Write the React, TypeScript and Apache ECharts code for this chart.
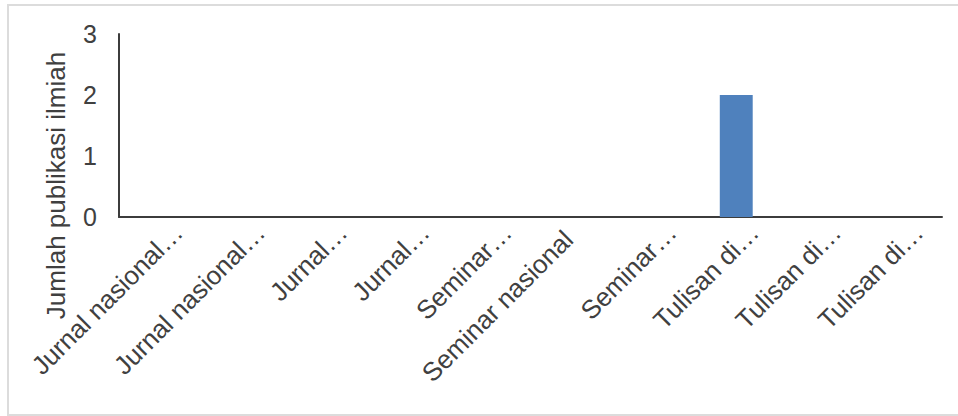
import React, { useEffect, useRef } from "react";
import * as echarts from "echarts";

const categories = [
  "Jurnal nasional…",
  "Jurnal nasional…",
  "Jurnal…",
  "Jurnal…",
  "Seminar…",
  "Seminar nasional",
  "Seminar…",
  "Tulisan di…",
  "Tulisan di…",
  "Tulisan di…",
];
const values = [0, 0, 0, 0, 0, 0, 0, 2, 0, 0];
const yTicks = [0, 1, 2, 3];
const yTitle = "Jumlah publikasi ilmiah";
const untruncatedLabel = "Seminar nasional";

export default function App() {
  const ref = useRef<HTMLDivElement>(null);
  useEffect(() => {
    if (!ref.current) return;
    const chart = echarts.init(ref.current, undefined, { renderer: "svg" });
    const font = "Liberation Sans, Arial, sans-serif";
    const xData = categories.map((c) =>
      c === untruncatedLabel
        ? {
            value: c,
            textStyle: {
              align: "right",
              verticalAlign: "top",
              lineHeight: 31,
              padding: [0, 20, 0, 0],
            },
          }
        : c
    );
    chart.setOption({
      animation: false,
      backgroundColor: "#ffffff",
      graphic: [
        {
          type: "rect",
          shape: { x: 8, y: 5, width: 960, height: 410 },
          style: { fill: "none", stroke: "#dcdcdc", lineWidth: 2 },
          silent: true,
        },
      ],
      grid: { left: 119, right: 16, top: 34, bottom: 199, containLabel: false },
      xAxis: {
        type: "category",
        data: xData,
        axisLine: { show: true, lineStyle: { color: "#3c3c3c", width: 2 } },
        axisTick: { show: false },
        axisLabel: {
          interval: 0,
          rotate: 45,
          margin: -7,
          align: "right",
          verticalAlign: "top",
          lineHeight: 51,
          fontFamily: font,
          fontSize: 26,
          color: "#404040",
        },
      },
      yAxis: {
        type: "value",
        min: yTicks[0],
        max: yTicks[yTicks.length - 1],
        interval: 1,
        axisLine: { show: true, lineStyle: { color: "#3c3c3c", width: 2 } },
        axisTick: { show: false },
        splitLine: { show: false },
        axisLabel: { margin: 22, fontFamily: font, fontSize: 25, color: "#404040" },
        name: yTitle,
        nameLocation: "middle",
        nameRotate: 90,
        nameGap: 50,
        nameTextStyle: {
          fontFamily: font,
          fontSize: 26,
          color: "#404040",
          padding: [0, 120, 0, 0],
        },
      },
      series: [
        {
          type: "bar",
          data: values,
          barWidth: "40%",
          itemStyle: { color: "#4f81bd" },
        },
      ],
    });
    return () => chart.dispose();
  }, []);
  return (
    <div
      ref={ref}
      style={{ position: "absolute", left: 0, top: 0, width: 958, height: 416 }}
    />
  );
}
